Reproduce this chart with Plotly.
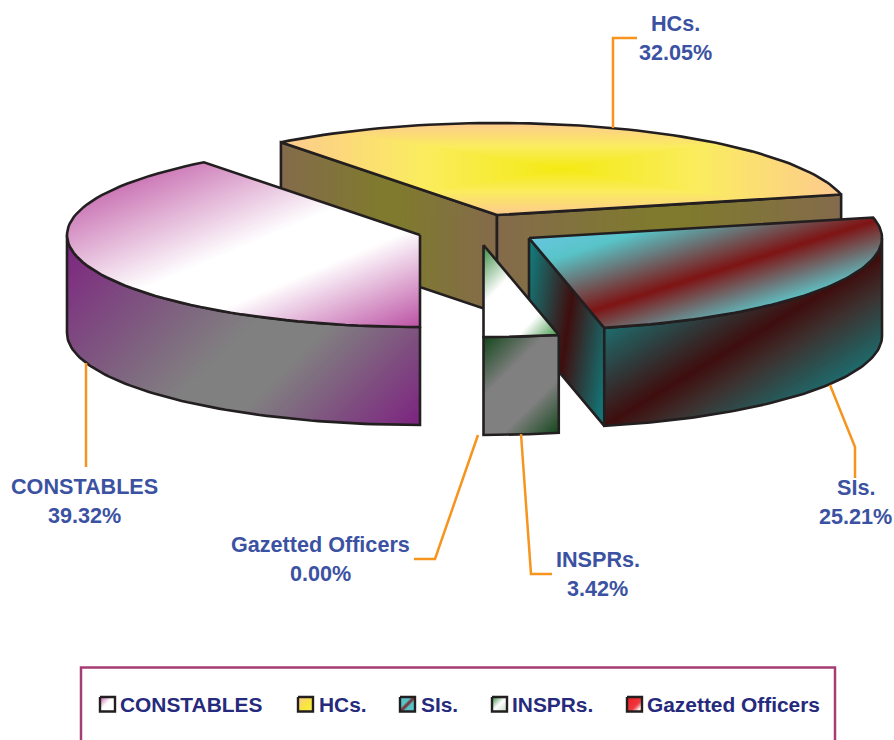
import math
import plotly.graph_objects as go

# ---------- data ----------
categories = ["CONSTABLES", "HCs.", "SIs.", "INSPRs.", "Gazetted Officers"]
shares = [39.32, 32.05, 25.21, 3.42, 0.00]

# ---------- geometry / style ----------
W, H = 894, 740
RX, RY, DEPTH = 353, 92, 98
START = 180.0
CENTRES = {"CONSTABLES": (420, 235), "HCs.": (497, 215), "SIs.": (529, 238), "INSPRs.": (483.5, 245)}
INK = "#231f20"
ORANGE = "#f7941d"
LABEL = "#3b52a3"
LEGEND_TEXT = "#262a7c"
FONT = "Liberation Sans"

fig = go.Figure()


def hex2rgb(h):
    return tuple(int(h[i:i + 2], 16) for i in (1, 3, 5))


def ramp(stops, s):
    s = max(0.0, min(1.0, s))
    for (a, ca), (b, cb) in zip(stops, stops[1:]):
        if s <= b:
            f = 0 if b == a else (s - a) / (b - a)
            A, B = hex2rgb(ca), hex2rgb(cb)
            return "rgb(%d,%d,%d)" % tuple(round(A[i] + (B[i] - A[i]) * f) for i in range(3))
    return stops[-1][1]


def clip(poly, nx, ny, k):
    """keep the part of poly with nx*x + ny*y >= k"""
    out = []
    for i, (x0, y0) in enumerate(poly):
        x1, y1 = poly[(i + 1) % len(poly)]
        d0, d1 = nx * x0 + ny * y0 - k, nx * x1 + ny * y1 - k
        if d0 >= 0:
            out.append((x0, y0))
        if (d0 >= 0) != (d1 >= 0):
            f = d0 / (d0 - d1)
            out.append((x0 + (x1 - x0) * f, y0 + (y1 - y0) * f))
    return out


def patch(poly, colour):
    if len(poly) < 3:
        return
    xs = [p[0] for p in poly] + [poly[0][0]]
    ys = [p[1] for p in poly] + [poly[0][1]]
    fig.add_trace(go.Scatter(x=xs, y=ys, mode="lines", fill="toself", fillcolor=colour,
                             line=dict(width=0, color=colour, simplify=False),
                             hoverinfo="skip", showlegend=False))


def outline(poly, width=2.6):
    xs = [p[0] for p in poly] + [poly[0][0]]
    ys = [p[1] for p in poly] + [poly[0][1]]
    fig.add_trace(go.Scatter(x=xs, y=ys, mode="lines", line=dict(width=width, color=INK),
                             hoverinfo="skip", showlegend=False))


def linear(poly, nx, ny, stops, edge=2.6, step=2.0):
    vals = [nx * x + ny * y for x, y in poly]
    lo, hi = min(vals), max(vals)
    span = (hi - lo) / math.hypot(nx, ny)
    n = max(8, min(150, int(span / step)))
    prev = None
    for i in range(n):
        col = ramp(stops, (i + 0.5) / n)
        if col == prev:
            continue
        patch(clip(poly, nx, ny, lo + (hi - lo) * i / n) if i else poly, col)
        prev = col
    outline(poly, edge)


def boxed(poly, stops, n=48, edge=2.6):
    xs, ys = [p[0] for p in poly], [p[1] for p in poly]
    cx, cy = (min(xs) + max(xs)) / 2, (min(ys) + max(ys)) / 2
    hw, hh = (max(xs) - min(xs)) / 2, (max(ys) - min(ys)) / 2
    for i in range(n):
        f = 1 - i / n
        p = poly
        p = clip(p, 1, 0, cx - hw * f)
        p = clip(p, -1, 0, -(cx + hw * f))
        p = clip(p, 0, 1, cy - hh * f)
        p = clip(p, 0, -1, -(cy + hh * f))
        patch(p, ramp(stops, f - 0.5 / n))
    outline(poly, edge)


def rim(c, t):
    r = math.radians(t + 0.9 * max(0.0, math.cos(math.radians(t))))
    return (c[0] + RX * math.sin(r), c[1] - RY * math.cos(r))


def arc(c, a, b, n=70):
    return [rim(c, a + (b - a) * i / n) for i in range(n + 1)]


def down(pts):
    return [(x, y + DEPTH) for x, y in pts]


def outer_wall(c, a, b):
    top = arc(c, a, b)
    return top + down(top)[::-1]


def inner_wall(c, t):
    e = rim(c, t)
    return [c, e, (e[0], e[1] + DEPTH), (c[0], c[1] + DEPTH)]


# slice angles come from the shares
ang = {}
t = START
for name, v in zip(categories, shares):
    lo = t % 360 if t >= 360 else t
    ang[name] = (lo, lo + v * 3.6)
    t += v * 3.6

# ---------- HCs. ----------
c = CENTRES["HCs."]
a, b = ang["HCs."]
BROWN = [(0, "#846b4c"), (0.45, "#7f7a2e"), (0.55, "#7f7a2e"), (1, "#846b4c")]
linear(inner_wall(c, a), 1, 0, BROWN)
linear(inner_wall(c, b), 1, 0, BROWN)
boxed([c] + arc(c, a, b), [(0, "#f4ea12"), (0.5, "#faec60"), (1, "#fdca90")])

# ---------- SIs. ----------
c = CENTRES["SIs."]
a, b = ang["SIs."]
linear(inner_wall(c, b), 1, 0.15,
       [(0, "#0f8282"), (0.5, "#3f0e0e"), (1, "#0f7f80")])
linear(outer_wall(c, 90, b), 0.61, 1,
       [(0, "#1f6d6e"), (0.5, "#3f0e0e"), (0.68, "#3d3230"), (1, "#1e6b6c")])
linear([c] + arc(c, a, b), 0.32, 1,
       [(0, "#68c6e0"), (0.2, "#58c4c8"), (0.64, "#7f1414"), (1, "#5fc0c4")])

# ---------- CONSTABLES ----------
c = CENTRES["CONSTABLES"]
a, b = ang["CONSTABLES"]
linear(outer_wall(c, a, 270), 1, 1,
       [(0, "#7d2380"), (0.5, "#808080"), (0.65, "#808080"), (1, "#7d2380")])
linear([c] + arc(c, a, b), 0.42, 1,
       [(0, "#cc78b6"), (0.42, "#ffffff"), (0.62, "#ffffff"), (1, "#bc52a4")])

# ---------- INSPRs. ----------
c = CENTRES["INSPRs."]
a, b = ang["INSPRs."]
linear(outer_wall(c, a, b), 1, 1,
       [(0, "#14481c"), (0.35, "#808080"), (0.68, "#808080"), (1, "#14481c")], step=1.5)
linear([c] + arc(c, a, b), 1, 0.95,
       [(0, "#358a3e"), (0.35, "#ffffff"), (0.75, "#ffffff"), (1, "#3f9646")], step=1.5)

# ---------- leader lines ----------
leaders = [
    [(613, 128), (613, 38), (637, 38)],
    [(830, 385), (855, 447), (855, 478)],
    [(86, 363), (86, 467)],
    [(478, 435), (435, 559), (414, 559)],
    [(521, 434), (531, 574), (552, 574)],
]
for ln in leaders:
    fig.add_trace(go.Scatter(x=[p[0] for p in ln], y=[p[1] for p in ln], mode="lines",
                             line=dict(width=2.5, color=ORANGE), hoverinfo="skip", showlegend=False))

# ---------- slice labels ----------
label_at = {"HCs.": (675.5, 23), "SIs.": (855.5, 487), "CONSTABLES": (84.5, 486),
            "Gazetted Officers": (320.5, 544), "INSPRs.": (597.5, 559)}
annotations = []
for name, v in zip(categories, shares):
    x, y = label_at[name]
    for txt, yy in ((name, y), (f"{v:.2f}%", y + 29)):
        annotations.append(dict(x=x, y=yy, xref="x", yref="y", text=f"<b>{txt}</b>", showarrow=False,
                                xanchor="center", yanchor="middle",
                                font=dict(family=FONT, size=21.6, color=LABEL)))

# ---------- legend ----------
swatch_x = [100, 298, 400, 492, 627]
text_x = [118, 317, 419, 510, 645]
swatch_stops = [
    [(0, "#c05ca8"), (0.45, "#ffffff"), (1, "#ffffff")],
    [(0, "#fdca90"), (0.6, "#f8e838"), (1, "#faec60")],
    [(0, "#58c4c8"), (0.38, "#58c4c8"), (0.5, "#7f1414"), (0.62, "#58c4c8"), (1, "#58c4c8")],
    [(0, "#358a3e"), (0.5, "#ffffff"), (1, "#b8d8bc")],
    [(0, "#ed1c24"), (0.6, "#ee3a40"), (0.85, "#ffffff"), (1, "#ed1c24")],
]
for name, sx, tx, st in zip(categories, swatch_x, text_x, swatch_stops):
    sq = [(sx, 697), (sx + 15, 697), (sx + 15, 711.5), (sx, 711.5)]
    linear(sq, 1, 1, st, edge=2.4, step=1.0)
    annotations.append(dict(x=tx, y=704, xref="x", yref="y", text=f"<b>{name}</b>", showarrow=False,
                            xanchor="left", yanchor="middle",
                            font=dict(family=FONT, size=20.9, color=LEGEND_TEXT)))

fig.update_layout(
    width=W, height=H, margin=dict(l=0, r=0, t=0, b=0), showlegend=False,
    paper_bgcolor="white", plot_bgcolor="white",
    xaxis=dict(range=[0, W], visible=False, fixedrange=True),
    yaxis=dict(range=[H, 0], visible=False, fixedrange=True),
    annotations=annotations,
    shapes=[dict(type="rect", xref="x", yref="y", x0=81, x1=835, y0=667.5, y1=760,
                 line=dict(color="#a63d72", width=2.5), fillcolor="rgba(0,0,0,0)", layer="below")],
)

fig.write_html("out.html", config={"displayModeBar": False},
               post_script="document.body.style.margin='0';document.body.style.overflow='hidden';")
